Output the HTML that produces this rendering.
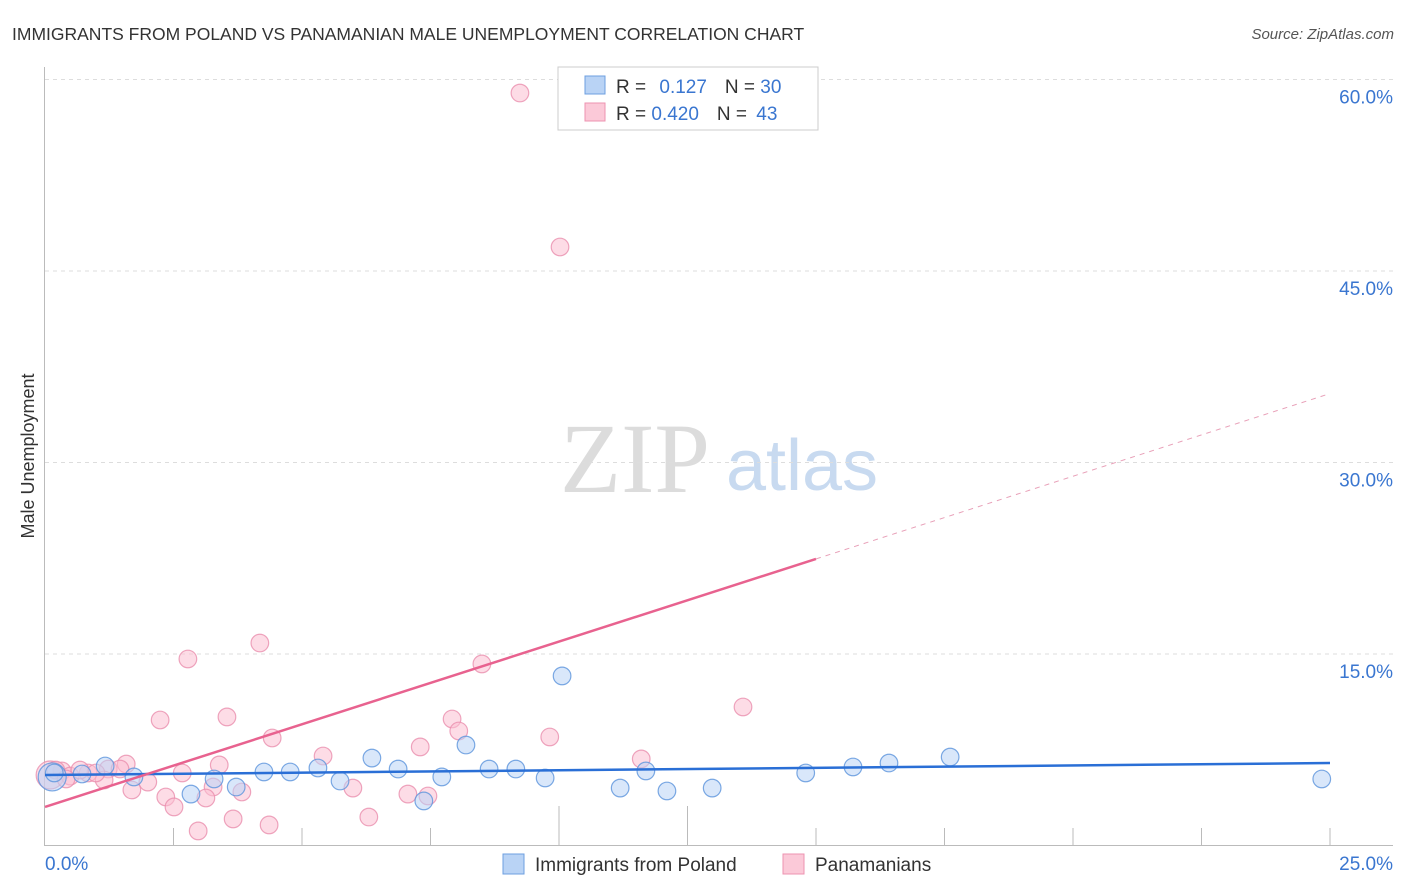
<!DOCTYPE html>
<html><head><meta charset="utf-8"><style>
body{margin:0;background:#fff;font-family:"Liberation Sans",sans-serif;}
#wrap{position:relative;width:1406px;height:892px;overflow:hidden;}
</style></head><body>
<div id="wrap">
<svg id="chart" width="1406" height="892" xmlns="http://www.w3.org/2000/svg">
<text x="12" y="40" font-size="17.5" fill="#333">IMMIGRANTS FROM POLAND VS PANAMANIAN MALE UNEMPLOYMENT CORRELATION CHART</text>
<text x="1394" y="39" font-size="15" fill="#555" font-style="italic" text-anchor="end">Source: ZipAtlas.com</text>
<text x="34" y="456" font-size="18" fill="#333" text-anchor="middle" transform="rotate(-90 34 456)">Male Unemployment</text>
<g>
<text x="635" y="492" font-size="100" fill="#dcdcdc" font-family="Liberation Serif,serif" text-anchor="middle">ZIP</text>
<text x="802" y="490" font-size="72" fill="#c8daf0" text-anchor="middle">atlas</text>
</g>
<g id="grid"></g><g id="axes"></g><g id="marks"></g>
<g>
<rect x="558" y="67" width="260" height="63" fill="#fff" stroke="#ccc"/>
<rect x="585" y="76" width="20" height="18" fill="#b9d3f5" stroke="#6d9fe0"/>
<rect x="585" y="103" width="20" height="18" fill="#fbc9d8" stroke="#ee93b0"/>
<text x="616" y="93" font-size="19" fill="#333">R = <tspan fill="#3a76d0" dx="8">0.127</tspan><tspan dx="18" fill="#333">N = </tspan><tspan fill="#3a76d0">30</tspan></text>
<text x="616" y="120" font-size="19" fill="#333">R = <tspan fill="#3a76d0">0.420</tspan><tspan dx="18" fill="#333">N = </tspan><tspan fill="#3a76d0" dx="4">43</tspan></text>
</g>
<g>
<rect x="503" y="854" width="21" height="20" fill="#b9d3f5" stroke="#6d9fe0"/>
<text x="535" y="871" font-size="19" fill="#333">Immigrants from Poland</text>
<rect x="783" y="854" width="21" height="20" fill="#fbc9d8" stroke="#ee93b0"/>
<text x="815" y="871" font-size="19" fill="#333">Panamanians</text>
</g>
</svg>
</div>
<script>
const yTicks=[15,30,45,60];
const yTickLabels=["15.0%","30.0%","45.0%","60.0%"];
const xTickLabels=["0.0%","25.0%"];
const polandX=[0.14,0.18,0.72,1.17,1.73,2.84,3.29,3.72,4.26,4.77,5.31,5.74,6.36,6.87,7.37,7.72,8.19,8.64,9.16,9.73,10.06,11.19,11.69,12.10,12.98,14.80,15.72,16.42,17.61,24.84];
const polandY=[5.37,5.68,5.60,6.23,5.37,4.03,5.21,4.58,5.76,5.76,6.07,5.05,6.85,5.99,3.49,5.37,7.87,5.99,5.99,5.29,13.28,4.50,5.84,4.27,4.50,5.68,6.15,6.46,6.93,5.21];
const panX=[9.24,10.02,4.18,2.78,8.50,13.58,2.24,3.54,7.92,8.05,4.42,9.82,7.30,5.41,11.60,3.39,2.67,1.58,1.23,0.84,0.33,0.10,1.46,2.00,1.69,2.35,3.27,3.83,3.13,2.51,5.99,7.06,7.45,3.66,2.98,4.36,6.30,1.15,0.49,0.21,0.99,0.68,0.41];
const panY=[58.94,46.88,15.86,14.61,14.22,10.85,9.83,10.07,9.91,8.97,8.42,8.50,7.72,7.01,6.78,6.31,5.68,6.38,5.99,5.68,5.84,5.52,5.99,4.97,4.35,3.80,4.58,4.19,3.72,3.02,4.50,4.03,3.88,2.08,1.14,1.61,2.23,5.13,5.44,5.91,5.68,5.91,5.21];
const polandTrend=[5.52,6.46];
const panTrend=[3.02,35.4];
const panSolidEnd=15.0;

const NS="http://www.w3.org/2000/svg";
const X0=45,X1=1330,Y0=845.5,YPER=766/60;
function sx(v){return X0+v*(X1-X0)/25;}
function sy(v){return Y0-v*YPER;}
function mk(tag,attrs,parent){const e=document.createElementNS(NS,tag);for(const k in attrs)e.setAttribute(k,attrs[k]);parent.appendChild(e);return e;}
const grid=document.getElementById('grid'),axes=document.getElementById('axes'),marks=document.getElementById('marks');
yTicks.forEach((t,i)=>{
 const l=mk('line',{x1:45,x2:1393,y1:sy(t),y2:sy(t),stroke:'#ddd','stroke-dasharray':'4,4'},grid);
 
 
 const tx=mk('text',{x:1393,y:sy(t)+24,'font-size':19,fill:'#3a76d0','text-anchor':'end'},axes);
 tx.textContent=yTickLabels[i];
 
 
});
let a=mk('line',{x1:44.5,x2:44.5,y1:67,y2:846,stroke:'#bbb'},axes);


a=mk('line',{x1:44,x2:1393,y1:845.5,y2:845.5,stroke:'#bbb'},axes);


for(let i=1;i<=10;i++){
 const v=i*2.5;
 const t=mk('line',{x1:sx(v),x2:sx(v),y1:(i==4||i==5)?806:828,y2:845,stroke:'#bbb'},axes);
 
 
}
let xl=mk('text',{x:45,y:870,'font-size':19,fill:'#3a76d0'},axes);xl.textContent=xTickLabels[0];


xl=mk('text',{x:1393,y:870,'font-size':19,fill:'#3a76d0','text-anchor':'end'},axes);xl.textContent=xTickLabels[1];



function dots(xs,ys,fill,stroke,name,bigIdx){
 xs.forEach((x,i)=>{
  const big=(i===bigIdx);
  const c=mk('circle',{cx:sx(x),cy:sy(ys[i]),r:big?14:8.8,fill:fill,'fill-opacity':0.55,stroke:stroke,'stroke-width':1.2,'stroke-opacity':0.8},marks);
  
  
 });
}
dots(panX,panY,'#fbc0d2','#ea8fae','panamanian-point',21);
dots(polandX,polandY,'#b9d3f5','#5b93dc','poland-point',0);
let ln=mk('line',{x1:sx(0),y1:sy(polandTrend[0]),x2:sx(25),y2:sy(polandTrend[1]),stroke:'#2a6fd6','stroke-width':2.5},marks);


const ps=(panTrend[1]-panTrend[0])/25;
ln=mk('line',{x1:sx(0),y1:sy(panTrend[0]),x2:sx(panSolidEnd),y2:sy(panTrend[0]+ps*panSolidEnd),stroke:'#e8628f','stroke-width':2.5},marks);


ln=mk('line',{x1:sx(panSolidEnd),y1:sy(panTrend[0]+ps*panSolidEnd),x2:sx(25),y2:sy(panTrend[1]),stroke:'#e8a0b8','stroke-width':1,'stroke-dasharray':'5,5'},marks);


</script>
</body></html>
